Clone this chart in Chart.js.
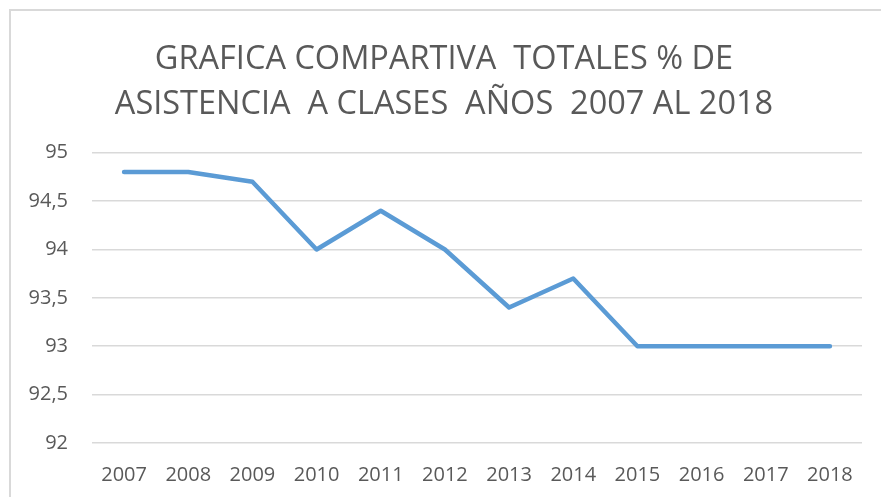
<!DOCTYPE html>
<html>
<head>
<meta charset="utf-8">
<script src="https://cdn.jsdelivr.net/npm/chart.js@4"></script>
<style>
  html, body { margin: 0; padding: 0; background: #fff; overflow: hidden; }
  #marco { position: absolute; left: 9px; top: 9px; width: 1000px; height: 1000px;
           border-left: 2px solid #d9d9d9; border-top: 2px solid #d9d9d9; }
  #zona { position: absolute; left: 0; top: 0; width: 881px; height: 497px; }
</style>
</head>
<body>
<div id="marco"></div>
<div id="zona"><canvas id="grafica"></canvas></div>
<script>
const anios = ['2007', '2008', '2009', '2010', '2011', '2012', '2013', '2014', '2015', '2016', '2017', '2018'];
const asistencia = [94.8, 94.8, 94.7, 94.0, 94.4, 94.0, 93.4, 93.7, 93.0, 93.0, 93.0, 93.0];
const titulo = ['GRAFICA COMPARTIVA  TOTALES % DE', 'ASISTENCIA  A CLASES  AÑOS  2007 AL 2018'];
const ejeY = { min: 92, max: 95, paso: 0.5 };

const gris = '#595959';
const fuente = "'Open Sans', sans-serif";

new Chart(document.getElementById('grafica'), {
  type: 'line',
  data: {
    labels: anios,
    datasets: [{
      label: 'Asistencia',
      data: asistencia,
      borderColor: '#5B9BD5',
      borderWidth: 4.5,
      borderJoinStyle: 'round',
      borderCapStyle: 'round',
      pointRadius: 0,
      tension: 0,
      fill: false
    }]
  },
  options: {
    responsive: true,
    maintainAspectRatio: false,
    animation: false,
    // padding izquierdo para acercar el centro del título a x≈450 sin cortar las etiquetas
    layout: { padding: { left: 26, right: 19, top: 0, bottom: 10 } },
    plugins: {
      legend: { display: false },
      tooltip: { enabled: false },
      title: {
        display: true,
        text: titulo,
        color: gris,
        font: { family: fuente, size: 32.5, weight: 'normal', lineHeight: 1.38 },
        padding: { top: 37, bottom: 26 }
      }
    },
    scales: {
      x: {
        offset: true,
        grid: { display: false },
        border: { display: false },
        ticks: { color: gris, font: { family: fuente, size: 20 }, padding: 12, maxRotation: 0 },
        afterFit: (s) => { s.height = 44; }
      },
      y: {
        min: ejeY.min,
        max: ejeY.max,
        border: { display: false },
        grid: { color: '#d9d9d9', lineWidth: 1.5, drawTicks: false },
        ticks: {
          stepSize: ejeY.paso,
          color: gris,
          font: { family: fuente, size: 20 },
          padding: 24,
          callback: (v) => String(v).replace('.', ',')
        },
        afterFit: (s) => { s.width = 66; }
      }
    }
  }
});
</script>
</body>
</html>
